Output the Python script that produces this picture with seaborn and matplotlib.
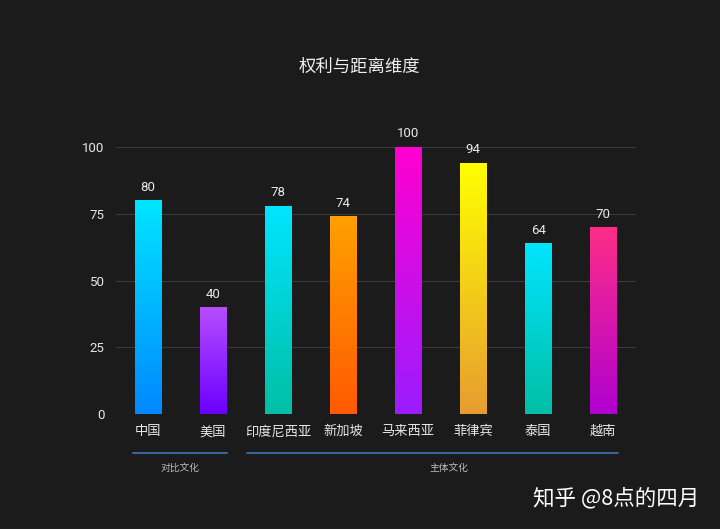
import numpy as np
import pandas as pd
import matplotlib
matplotlib.use("Agg")
import matplotlib.pyplot as plt
import matplotlib.colors as mcolors
import matplotlib.transforms as mtransforms
import seaborn as sns

countries = ["中国", "美国", "印度尼西亚", "新加坡", "马来西亚", "菲律宾", "泰国", "越南"]
scores = [80, 40, 78, 74, 100, 94, 64, 70]
top_colors = ["#00e5ff", "#b84dff", "#00e5ff", "#ffa000", "#ff00d0", "#ffff00", "#00e5ff", "#ff2d87"]
bottom_colors = ["#0088ff", "#6a00ff", "#00bfa5", "#ff5a00", "#9b1cff", "#e89c30", "#00bfa5", "#b000d0"]
group_names = ["对比文化", "主体文化"]
group_spans = [(-0.23, 1.22), (1.52, 7.22)]
group_label_x = [0.49, 4.63]
title = "权利与距离维度"
watermark = "知乎 @8点的四月"

bg = "#1b1b1b"
sns.set_theme(style="dark")
plt.rcParams["font.family"] = ["Roboto", "Noto Sans CJK SC", "DejaVu Sans"]
cjk = ["Noto Sans CJK SC", "DejaVu Sans"]

df = pd.DataFrame({"country": countries, "score": scores})

fig = plt.figure(figsize=(7.2, 5.29), dpi=100, facecolor=bg)
ax = fig.add_axes([0.16, 0.2174, 0.723, 0.5046])
ax.set_facecolor(bg)

sns.barplot(data=df, x="country", y="score", width=0.4, color="white", ax=ax)

# gradient fill for each bar
grad = np.linspace(0, 1, 256).reshape(-1, 1)
for patch, c_top, c_bot in zip(ax.patches, top_colors, bottom_colors):
    x0, y0 = patch.get_x(), patch.get_y()
    w, h = patch.get_width(), patch.get_height()
    cmap = mcolors.LinearSegmentedColormap.from_list("g", [c_bot, c_top])
    im = ax.imshow(grad, cmap=cmap, aspect="auto", origin="lower",
                   extent=[x0, x0 + w, y0, y0 + h], zorder=3)
    im.set_clip_path(patch)
    patch.set_facecolor("none")
    patch.set_edgecolor("none")
    ax.text(x0 + w / 2, h + 4.9, f"{h:.0f}", ha="center", va="center",
            color="#e8e8e8", fontsize=9.5, clip_on=False)

ax.set_xlim(-0.5, len(countries) - 0.5)
ax.set_ylim(0, 100)
ax.set_yticks([0, 25, 50, 75, 100])
ax.yaxis.grid(True, color="#3a3a3a", linewidth=0.8)
ax.set_axisbelow(True)
for s in ax.spines.values():
    s.set_visible(False)
ax.set_xlabel("")
ax.set_ylabel("")
ax.tick_params(axis="x", colors="#e8e8e8", labelsize=9.5, length=0, pad=8)
ax.tick_params(axis="y", colors="#e8e8e8", labelsize=9.5, length=0, pad=7.5)
for lbl in ax.get_xticklabels():
    lbl.set_family(cjk)

# group brackets under the axis
trans = mtransforms.blended_transform_factory(ax.transData, ax.transAxes)
for name, (a, b), lx in zip(group_names, group_spans, group_label_x):
    ax.plot([a, b], [-0.146, -0.146], color="#3d6fa8", linewidth=1.3,
            transform=trans, clip_on=False)
    ax.text(lx, -0.202, name, ha="center", va="center", color="#bbbbbb",
            fontsize=7, family=cjk, transform=trans)

fig.text(0.5, 0.873, title, ha="center", va="center", color="#eeeeee",
         fontsize=12.5, family=cjk)
fig.text(0.74, 0.057, watermark, ha="left", va="center", color="#ffffff",
         fontsize=15.5, family=cjk)

fig.savefig("out.png", dpi=100, facecolor=bg)
